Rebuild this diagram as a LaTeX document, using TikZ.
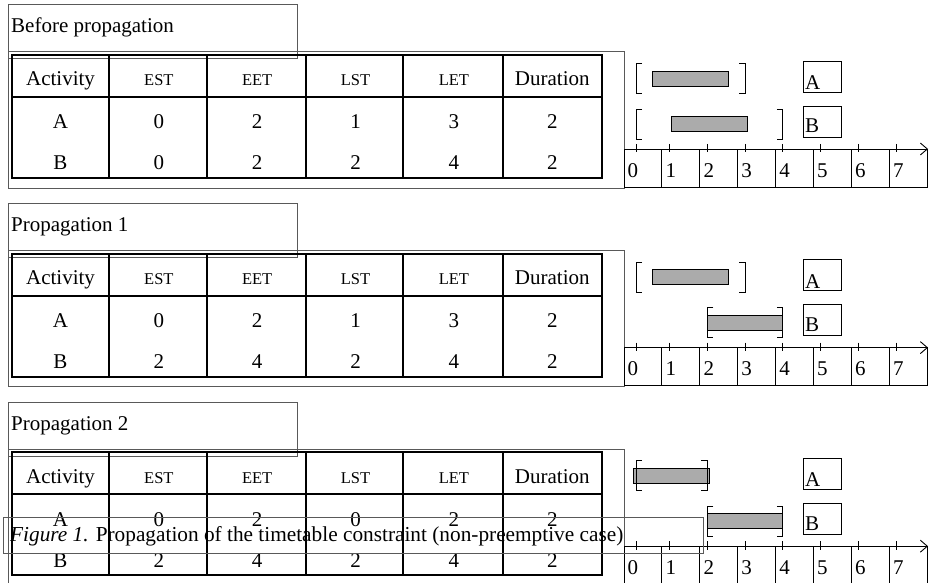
\documentclass[tikz,border=0pt]{standalone}
\usepackage{fontspec}
\setmainfont{Liberation Serif}
\usetikzlibrary{arrows.meta}

\begin{document}
\begin{tikzpicture}[x=1pt, y=-1pt,
  panelbox/.style={draw=black!65, line width=1pt},
  tabline/.style={line width=2.2pt},
  cellline/.style={line width=0.9pt},
  txt/.style={font=\fontsize{21}{24}\selectfont, inner sep=0pt},
  hdr/.style={font=\fontsize{16.5}{19}\selectfont, inner sep=0pt},
  slackbar/.style={draw, fill=black!33, line width=0.9pt},
  brk/.style={line width=0.9pt},
  timeaxis/.style={line width=0.9pt, -{Straight Barb[length=7pt, width=12pt]}},
]
\clip (0,0) rectangle (929,583);

% one panel per propagation step: title, table, windows, time axis
\foreach \dy/\ttl/\ea/\la/\eb/\lb [count=\p] in {
    0/Before propagation/0/1/0/2,
    198.6/Propagation 1/0/1/2/2,
    397.2/Propagation 2/0/0/2/2} {
  \begin{scope}[shift={(0,\dy)}]
    \draw[panelbox] (8,5) rectangle (297,59);
    \node[txt, anchor=base west] (title\p) at (11,33) {\ttl};
    \draw[panelbox] (8,52) rectangle (624,188);

    % table
    \draw[tabline] (12,55) rectangle (602,178);
    \draw[tabline] (12,97) -- (602,97);
    \foreach \x in {109,207,306,403,503}
      \draw[tabline] (\x,55) -- (\x,178);
    \node[txt, anchor=base] (act\p) at (60.5,86) {Activity};
    \foreach \h [count=\c] in {EST,EET,LST,LET}
      \node[hdr, anchor=base] (h\p-\c) at ({60.5+98.35*\c},86) {\h};
    \node[txt, anchor=base] (dur\p) at (552.3,86) {Duration};

    \foreach \es/\ls/\yb/\yw/\r in {\ea/\la/129/78.5/A, \eb/\lb/170/124/B} {
      \pgfmathtruncatemacro\ef{\es+2}
      \pgfmathtruncatemacro\lf{\ls+2}
      \node[txt, anchor=base] (\r\p-0) at (60.5,\yb) {\r};
      \foreach \v [count=\c] in {\es,\ef,\ls,\lf,2}
        \node[txt, anchor=base] (\r\p-\c) at ({60.5+98.35*\c},\yb) {\v};
      % window [EST, LET] with the activity bar in its middle
      \pgfmathsetmacro\xs{{636,669.5,707.3,745.1,782.9}[\es]}
      \pgfmathsetmacro\xf{{636,669.5,707.3,745.1,782.9}[\lf]}
      \pgfmathsetmacro\xm{(\xs+\xf)/2}
      \draw[slackbar] (\xm-37.8,\yw-7.5) rectangle (\xm+37.8,\yw+7.5);
      \draw[brk] (\xs+6,\yw-15) -| (\xs,\yw+15) -- (\xs+6,\yw+15)
                 (\xf-6,\yw-15) -| (\xf,\yw+15) -- (\xf-6,\yw+15);
    }

    % resource boxes
    \draw[cellline] (803,61) rectangle (841,92) (803,106) rectangle (841,137);
    \node[txt, anchor=base west] (la\p) at (805,89.5) {A};
    \node[txt, anchor=base west] (lb\p) at (805,133) {B};

    % time axis
    \coordinate (o\p) at (624,149);
    \coordinate (e\p) at (928,149);
    \draw[timeaxis] (o\p) -- (e\p);
    \foreach \t in {636,669.5,707.3,745.1,782.9,820.7,858.5,896.3}
      \draw[cellline] (\t,144) -- (\t,152.5);
    \foreach \k in {0,...,7} {
      \draw[cellline] ({624+37.9*\k},149) rectangle ({661.9+37.9*\k},187);
      \node[txt, anchor=base west] (n\p-\k) at ({627.5+37.9*\k},177) {\k};
    }
  \end{scope}
}

% caption
\draw[panelbox] (3,517) rectangle (703,553);
\node[txt, font=\fontsize{21.3}{24}\selectfont, anchor=base west] (caption) at (10,541.5)
  {\textit{Figure 1.} Propagation of the timetable constraint (non-preemptive case)};
\end{tikzpicture}
\end{document}
